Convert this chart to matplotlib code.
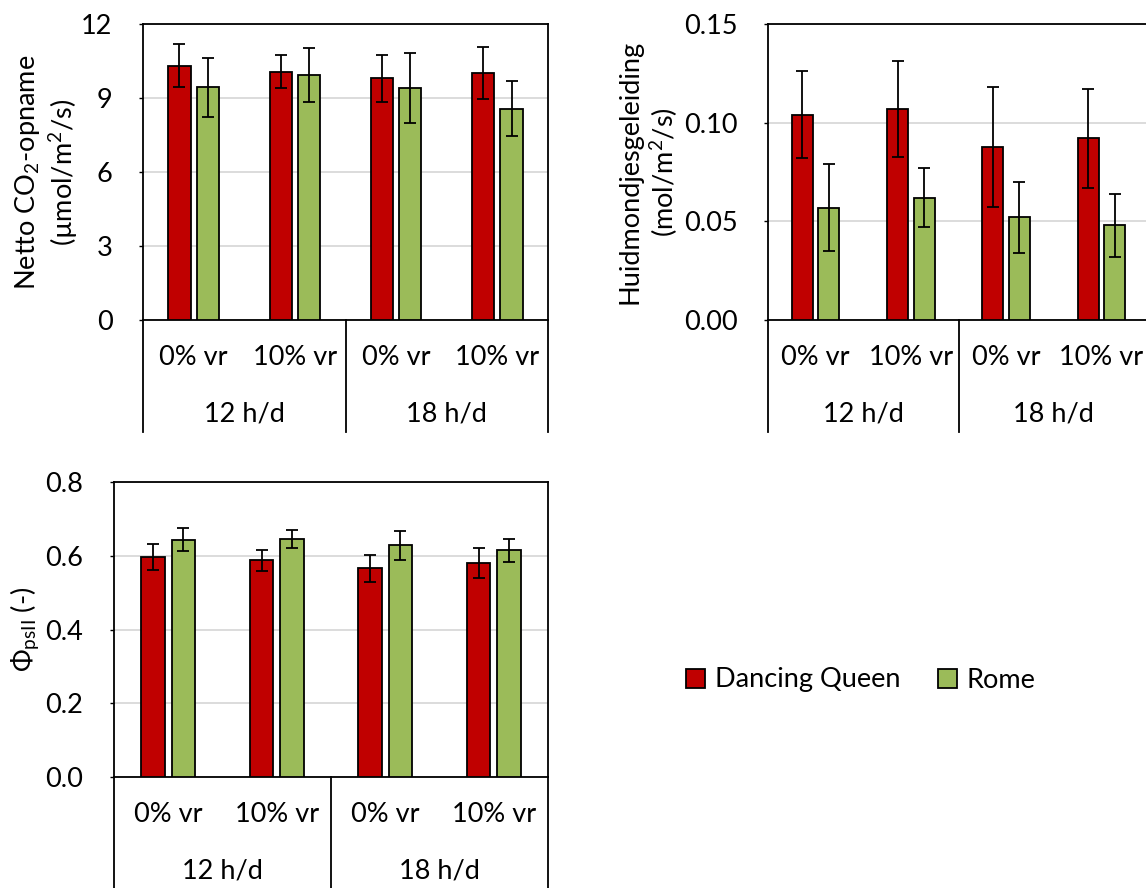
import matplotlib
matplotlib.use("Agg")
import matplotlib.pyplot as plt
import matplotlib.transforms as mtransforms
from matplotlib.patches import Patch

plt.rcParams["font.family"] = ["Lato", "DejaVu Sans"]
plt.rcParams["mathtext.fontset"] = "custom"
plt.rcParams["mathtext.rm"] = "Lato"
plt.rcParams["mathtext.it"] = "Lato:italic"

treatments = ["0% vr", "10% vr", "0% vr", "10% vr"]
photoperiods = ["12 h/d", "18 h/d"]
cultivars = ["Dancing Queen", "Rome"]

co2_dq = [10.3, 10.07, 9.8, 10.0]
co2_dq_err = [0.87, 0.67, 0.95, 1.05]
co2_rome = [9.43, 9.92, 9.41, 8.56]
co2_rome_err = [1.2, 1.1, 1.42, 1.12]

gs_dq = [0.104, 0.107, 0.0875, 0.092]
gs_dq_err = [0.022, 0.0245, 0.0304, 0.0253]
gs_rome = [0.057, 0.062, 0.052, 0.048]
gs_rome_err = [0.022, 0.0148, 0.018, 0.016]

phi_dq = [0.597, 0.588, 0.566, 0.581]
phi_dq_err = [0.036, 0.028, 0.037, 0.041]
phi_rome = [0.644, 0.646, 0.628, 0.615]
phi_rome_err = [0.031, 0.025, 0.04, 0.031]

red = "#C00000"
green = "#9BBB59"
fs = 19.5


def draw_panel(ax, dq, dq_err, rome, rome_err, ymax, step, fmt, ylabel, lpad):
    x = range(len(treatments))
    xr = [i - 0.14 for i in x]
    xg = [i + 0.14 for i in x]
    ekw = dict(ecolor="black", elinewidth=1.3, capsize=4.5, capthick=1.3)
    ax.bar(xr, dq, 0.22, color=red, edgecolor="black", linewidth=1.3,
           yerr=dq_err, error_kw=ekw, zorder=3)
    ax.bar(xg, rome, 0.22, color=green, edgecolor="black", linewidth=1.3,
           yerr=rome_err, error_kw=ekw, zorder=3)
    ax.set_xlim(-0.5, 3.5)
    ax.set_ylim(0, ymax)
    ticks = [step * k for k in range(int(round(ymax / step)) + 1)]
    ax.set_yticks(ticks)
    ax.set_yticklabels([fmt.format(t) for t in ticks], fontsize=fs)
    ax.yaxis.grid(True, color="#d9d9d9", linewidth=1.3, zorder=0)
    ax.set_axisbelow(True)
    ax.set_xticks([])
    ax.tick_params(axis="y", direction="out", length=3, width=1, pad=19)
    for s in ax.spines.values():
        s.set_linewidth(1.3)
    ax.set_ylabel(ylabel, fontsize=fs, linespacing=1.2, labelpad=lpad)

    # two-level category axis below the plot
    trans = mtransforms.blended_transform_factory(ax.transData, ax.transAxes)
    for i, t in enumerate(treatments):
        ax.text(i, -0.128, t, transform=trans, ha="center", va="center", fontsize=fs)
    for j, p in enumerate(photoperiods):
        ax.text(0.5 + 2 * j, -0.318, p, transform=trans, ha="center", va="center", fontsize=fs)
    for xv in [-0.5, 1.5, 3.5]:
        ax.plot([xv, xv], [0, -0.378], transform=trans, color="black",
                linewidth=1.3, clip_on=False)


W, H = 1146, 888
fig = plt.figure(figsize=(W / 100, H / 100), dpi=100)

ax1 = fig.add_axes([143 / W, 1 - 320 / H, 405 / W, 296 / H])
draw_panel(ax1, co2_dq, co2_dq_err, co2_rome, co2_rome_err, 12, 3, "{:.0f}",
           "Netto CO$_\\mathrm{2}$-opname\n(µmol/m$^\\mathrm{2}$/s)", 1)

ax2 = fig.add_axes([768 / W, 1 - 320 / H, 381 / W, 296 / H])
draw_panel(ax2, gs_dq, gs_dq_err, gs_rome, gs_rome_err, 0.15, 0.05, "{:.2f}",
           "Huidmondjesgeleiding\n(mol/m$^\\mathrm{2}$/s)", 3)

ax3 = fig.add_axes([114 / W, 1 - 777 / H, 434 / W, 295 / H])
draw_panel(ax3, phi_dq, phi_dq_err, phi_rome, phi_rome_err, 0.8, 0.2, "{:.1f}",
           "Φ$_\\mathrm{psII}$ (-)", 3)

handles = [Patch(facecolor=red, edgecolor="black", linewidth=1.3),
           Patch(facecolor=green, edgecolor="black", linewidth=1.3)]
fig.legend(handles, cultivars, loc="center", bbox_to_anchor=(861 / W, 1 - 680 / H),
           ncol=2, frameon=False, fontsize=fs, handlelength=0.7, handleheight=0.7,
           handletextpad=0.35, columnspacing=1.4)

fig.savefig("out.png", dpi=100)
